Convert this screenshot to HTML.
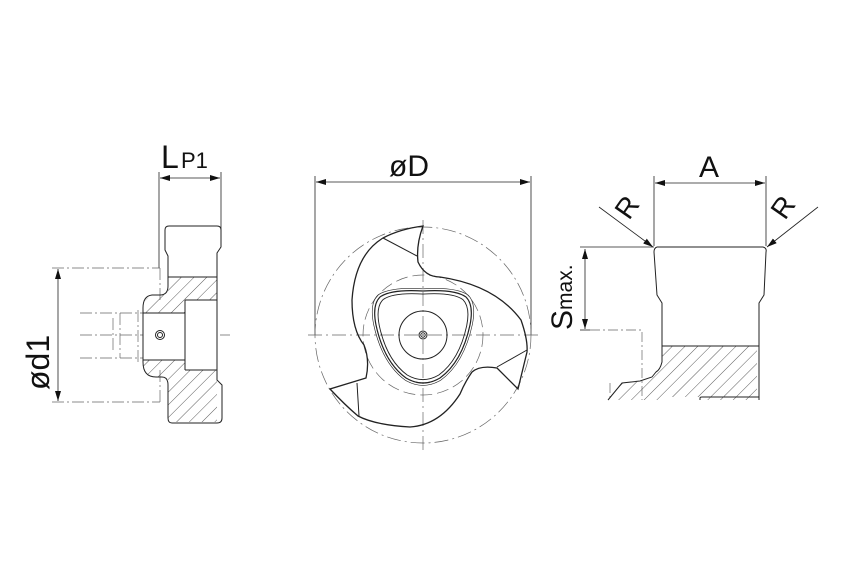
<!DOCTYPE html>
<html><head><meta charset="utf-8"><style>html,body{margin:0;padding:0;background:#fff}svg{display:block}</style></head>
<body>
<svg width="850" height="567" viewBox="0 0 850 567" xmlns="http://www.w3.org/2000/svg" font-family="Liberation Sans, sans-serif">
<defs>
<pattern id="h" patternUnits="userSpaceOnUse" width="9" height="9" patternTransform="rotate(45)">
<line x1="0" y1="0" x2="0" y2="9" stroke="#333" stroke-width="0.8"/></pattern>
<marker id="a" viewBox="0 0 10 6" refX="10" refY="3" markerWidth="10" markerHeight="6" orient="auto-start-reverse" markerUnits="userSpaceOnUse"><path d="M0,0L10,3L0,6z" fill="#111"/></marker>
<path id="tri" d="M423,291Q455,289 466,297Q474,305 470,325Q462,362 440,378Q423,388 406,378Q384,362 376,325Q372,305 380,297Q391,289 423,291Z"/>
</defs>
<g fill="none" stroke="#222" stroke-width="1">
<!-- LEFT VIEW -->
<line x1="159" y1="172" x2="159" y2="268" stroke-width="0.8"/>
<line x1="221" y1="172" x2="221" y2="232" stroke-width="0.8"/>
<line x1="160" y1="178" x2="220" y2="178" marker-start="url(#a)" marker-end="url(#a)" stroke-width="0.8"/>
<line x1="58" y1="269" x2="58" y2="401" marker-start="url(#a)" marker-end="url(#a)" stroke-width="0.8"/>
<g stroke="#666" stroke-width="0.7" stroke-dasharray="12,3,2,3">
<line x1="52" y1="268" x2="160" y2="268"/><line x1="52" y1="402" x2="160" y2="402"/>
<line x1="80" y1="335" x2="230" y2="335"/>
<line x1="80" y1="313" x2="143" y2="313"/><line x1="80" y1="358" x2="143" y2="358"/>
<line x1="160" y1="268" x2="160" y2="300"/><line x1="160" y1="370" x2="160" y2="402"/>
<line x1="113" y1="318" x2="113" y2="353"/><line x1="120" y1="313" x2="120" y2="358"/>
<line x1="138" y1="310" x2="138" y2="362"/>
</g>
<path d="M168,277H217V422H168V377H156Q150,377 146,372Q143,368 143,360V360H185V300H217V300H185V313H143V310Q143,302 148,298Q152,295 160,295H168Z" fill="url(#h)" stroke="none"/>
<path d="M143,313H185V360H143Z" fill="#fff" stroke="none"/>
<path d="M185,300H217V370H185Z" fill="#fff" stroke="none"/>
<path d="M168,277V286Q168,295 160,295H152Q143,296 143,308V362Q143,377 156,377H162Q168,377 168,385V418Q168,423 172,423H217Q222,423 222,418V385L217,380V253L221,247V230Q221,226 217,226H169Q165,226 165,230V250L168,256Z"/>
<line x1="168" y1="277" x2="217" y2="277"/>
<line x1="143" y1="313" x2="185" y2="313"/><line x1="143" y1="360" x2="185" y2="360"/>
<path d="M185,300V370M185,300H217M185,370H217"/>
<circle cx="160" cy="335" r="4.5"/><circle cx="160" cy="335" r="2.5"/>
<!-- CENTER VIEW -->
<line x1="315" y1="176" x2="315" y2="335" stroke-width="0.8"/>
<line x1="531" y1="176" x2="531" y2="335" stroke-width="0.8"/>
<line x1="316" y1="182" x2="530" y2="182" marker-start="url(#a)" marker-end="url(#a)" stroke-width="0.8"/>
<g stroke="#666" stroke-width="0.7">
<circle cx="423" cy="335" r="108" stroke-dasharray="14,4,2,4"/>
<circle cx="423" cy="335" r="60" stroke-dasharray="12,5"/>
<line x1="308" y1="335" x2="540" y2="335" stroke-dasharray="14,4,2,4"/>
<line x1="423" y1="220" x2="423" y2="450" stroke-dasharray="14,4,2,4"/>
</g>
<path d="M423,226Q416,245 418,262Q425,277 440,277Q495,285 521,320Q528,340 527,352L518,389L497,368Q480,365 472,372Q465,382 460,394Q440,425 410,427Q375,425 358,416Q345,405 330,389L366,378Q370,360 364,345Q352,330 352,300Q355,255 383,238Q400,229 423,226Z" stroke-width="1.3"/>
<line x1="383" y1="238" x2="417" y2="256"/>
<line x1="527" y1="350" x2="497" y2="367"/>
<line x1="357" y1="383" x2="359" y2="416"/>
<use href="#tri" stroke-width="1.2"/>
<use href="#tri" transform="translate(423,335) scale(0.93) translate(-423,-335)"/>
<use href="#tri" transform="translate(423,335) scale(1.05) translate(-423,-335)" stroke-width="0.6"/>
<circle cx="423" cy="335" r="24"/>
<circle cx="423" cy="335" r="4"/><circle cx="423" cy="335" r="2.2"/>
<!-- RIGHT VIEW -->
<line x1="654" y1="176" x2="654" y2="246" stroke-width="0.8"/>
<line x1="766" y1="176" x2="766" y2="246" stroke-width="0.8"/>
<line x1="655" y1="183" x2="765" y2="183" marker-start="url(#a)" marker-end="url(#a)" stroke-width="0.8"/>
<line x1="599" y1="207" x2="653" y2="247" marker-end="url(#a)" stroke-width="0.8"/>
<line x1="818" y1="207" x2="767" y2="247" marker-end="url(#a)" stroke-width="0.8"/>
<line x1="580" y1="247" x2="654" y2="247" stroke-width="0.8"/>
<line x1="585" y1="249" x2="585" y2="329" marker-start="url(#a)" marker-end="url(#a)" stroke-width="0.8"/>
<line x1="580" y1="330" x2="590" y2="330" stroke-width="0.8"/>
<path d="M590,330H642V400M610,383V400" stroke="#666" stroke-width="0.7" stroke-dasharray="10,3,2,3"/>
<path d="M662,346H757V400H700V397H662Z" fill="url(#h)" stroke="none"/>
<path d="M662,346V362Q660,370 656,372L652,377L640,381L622,383L608,400H662Z" fill="url(#h)" stroke="none"/>
<path d="M657,247H763Q767,248 766,252L764,295L759,303V400"/>
<path d="M657,247Q654,248 654,252L657,295L662,303V362Q660,370 656,372L652,377L640,381L622,383L608,400"/>
<line x1="662" y1="346" x2="759" y2="346"/>
<path d="M700,400V398Q700,397 702,397H759"/>
</g>
<g fill="#111" stroke="none">
<text x="161" y="168" font-size="32">L</text><text x="181" y="168" font-size="22">P1</text>
<text x="389" y="176" font-size="30">øD</text>
<text x="699" y="177" font-size="30">A</text>
<text transform="translate(629,221) rotate(-55)" font-size="28">R</text>
<text transform="translate(785,221) rotate(-55)" font-size="28">R</text>
<text transform="translate(49,390) rotate(-90)" font-size="32">ød1</text>
<text transform="translate(572,330) rotate(-90)" font-size="30">S<tspan font-size="21">max.</tspan></text>
</g>
</svg>
</body></html>
